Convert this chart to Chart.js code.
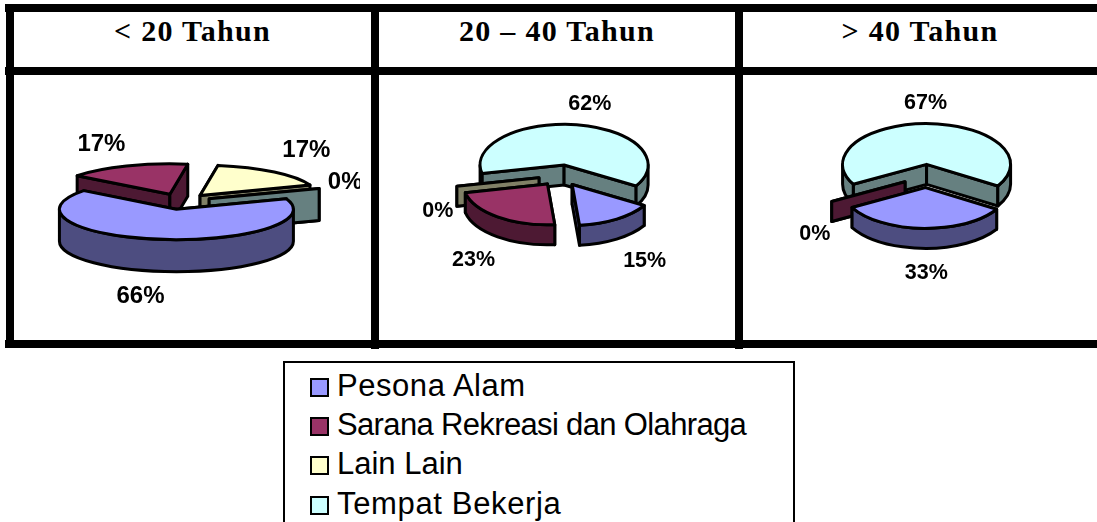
<!DOCTYPE html>
<html>
<head>
<meta charset="utf-8">
<script src="https://cdn.jsdelivr.net/npm/chart.js@4/dist/chart.umd.min.js"></script>
<style>
html,body{margin:0;padding:0;background:#fff;overflow:hidden;width:1097px;height:522px}
.bar{position:absolute;background:#000}
.head{position:absolute;top:12px;height:56px;text-align:center;font:bold 30px/38px "Liberation Serif",serif;letter-spacing:1.3px;color:#000}
canvas{position:absolute}
.wrap{position:absolute;overflow:hidden}
#legend{position:absolute;left:283px;top:361px;width:508px;height:170px;border:2px solid #000;background:#fff;box-sizing:content-box}
.row{position:absolute;left:0;height:39px;font:31px/39px "Liberation Sans",sans-serif;color:#000;white-space:nowrap}
.sw{position:absolute;left:25px;top:11px;width:15px;height:15px;border:2px solid #000}
.tx{position:absolute;left:52px;top:-1px}
</style>
</head>
<body>
<div class="bar" style="left:5px;top:4px;width:1092px;height:8px"></div>
<div class="bar" style="left:5px;top:67px;width:1092px;height:8px"></div>
<div class="bar" style="left:5px;top:340px;width:1092px;height:8px"></div>
<div class="bar" style="left:6px;top:4px;width:8px;height:344px"></div>
<div class="bar" style="left:371px;top:4px;width:8px;height:345px"></div>
<div class="bar" style="left:735px;top:4px;width:8px;height:345px"></div>
<div id="heads"></div>
<div class="wrap" style="left:14px;top:75px;width:346px;height:265px"><canvas id="c0" width="346" height="265" style="left:0;top:0;width:346px;height:265px"></canvas></div>
<div class="wrap" style="left:379px;top:75px;width:356px;height:265px"><canvas id="c1" width="356" height="265" style="left:0;top:0;width:356px;height:265px"></canvas></div>
<div class="wrap" style="left:743px;top:75px;width:354px;height:265px"><canvas id="c2" width="354" height="265" style="left:0;top:0;width:354px;height:265px"></canvas></div>
<div id="legend"></div>
<script>
const categories = ['Pesona Alam', 'Sarana Rekreasi dan Olahraga', 'Lain Lain', 'Tempat Bekerja'];
const ageGroups = ['< 20 Tahun', '20 – 40 Tahun', '> 40 Tahun'];
const valuesUnder20 = [66, 17, 17, 0];
const values20to40 = [15, 23, 0, 62];
const valuesOver40 = [33, 0, null, 67];
const topColors = ['#9999FF', '#993366', '#FFFFCC', '#CCFFFF'];
const sideColors = ['#4D4D80', '#4D1933', '#808066', '#668080'];

const headBoxes = [[14, 357], [379, 356], [743, 354]];
ageGroups.forEach((t, i) => {
  const d = document.createElement('div');
  d.className = 'head';
  d.style.left = headBoxes[i][0] + 'px';
  d.style.width = headBoxes[i][1] + 'px';
  d.textContent = t;
  document.getElementById('heads').appendChild(d);
});

const rowTops = [4, 43, 82, 122];
const rowSpacing = [0.55, -0.65, 0, 0.65];
categories.forEach((c, i) => {
  const r = document.createElement('div');
  r.className = 'row';
  r.style.top = rowTops[i] + 'px';
  const s = document.createElement('span');
  s.className = 'sw';
  s.style.background = topColors[i];
  const t = document.createElement('span');
  t.className = 'tx';
  t.style.letterSpacing = rowSpacing[i] + 'px';
  t.textContent = c;
  r.appendChild(s); r.appendChild(t);
  document.getElementById('legend').appendChild(r);
});

const pie3d = {
  id: 'pie3d',
  beforeDatasetsDraw(chart, args, o) {
    const ctx = chart.ctx;
    const meta = chart.getDatasetMeta(0);
    const raw = chart.data.datasets[0].data;
    const s = o.squash, d = o.depth;
    const slices = meta.data.map((arc, i) => {
      const p = arc.getProps(['x', 'y', 'startAngle', 'endAngle', 'outerRadius']);
      const mid = (p.startAngle + p.endAngle) / 2;
      const off = arc.options.offset;
      return { i, p, mid, cx: p.x + Math.cos(mid) * off, cy: p.y + Math.sin(mid) * off * s };
    }).filter(q => raw[q.i] !== null);
    const order = slices.slice().sort((a, b) => Math.sin(a.mid) - Math.sin(b.mid));
    ctx.save();
    ctx.lineWidth = 3;
    ctx.lineJoin = 'round';
    ctx.strokeStyle = '#000';
    const paint = c => { ctx.fillStyle = c; ctx.fill(); ctx.stroke(); };
    order.forEach(q => {
      const { p, cx, cy, i } = q;
      const r = p.outerRadius, ry = r * s;
      const side = sideColors[i];
      [p.startAngle, p.endAngle].forEach(a => {
        const ox = cx + r * Math.cos(a), oy = cy + ry * Math.sin(a);
        ctx.beginPath();
        ctx.moveTo(cx, cy); ctx.lineTo(ox, oy); ctx.lineTo(ox, oy + d); ctx.lineTo(cx, cy + d);
        ctx.closePath();
        paint(side);
      });
      if (p.endAngle > p.startAngle) {
        for (let k = -2; k <= 2; k++) {
          const t0 = Math.max(p.startAngle, 2 * k * Math.PI);
          const t1 = Math.min(p.endAngle, 2 * k * Math.PI + Math.PI);
          if (t1 > t0) {
            ctx.beginPath();
            ctx.ellipse(cx, cy, r, ry, 0, t0, t1);
            ctx.ellipse(cx, cy + d, r, ry, 0, t1, t0, true);
            ctx.closePath();
            paint(side);
          }
        }
        ctx.beginPath();
        ctx.moveTo(cx, cy);
        ctx.ellipse(cx, cy, r, ry, 0, p.startAngle, p.endAngle);
        ctx.closePath();
        paint(meta.data[i].options.backgroundColor);
      }
    });
    ctx.fillStyle = '#000';
    ctx.font = 'bold ' + o.fontSize + 'px "Liberation Sans", sans-serif';
    ctx.textAlign = 'center';
    ctx.textBaseline = 'middle';
    slices.forEach(q => {
      const r = q.p.outerRadius;
      const n = o.labelNudge[q.i];
      const lx = q.cx + r * Math.cos(q.mid) + n[0];
      const ly = q.cy + r * s * Math.sin(q.mid) + n[1];
      ctx.fillText(raw[q.i] + '%', lx, ly);
    });
    ctx.restore();
    return false;
  }
};

function makePie(id, values, cfg) {
  new Chart(document.getElementById(id), {
    type: 'pie',
    data: {
      labels: categories,
      datasets: [{
        data: values,
        backgroundColor: topColors,
        borderWidth: 0,
        offset: cfg.offset,
        radius: cfg.radius
      }]
    },
    options: {
      responsive: false,
      animation: false,
      rotation: cfg.rotation,
      layout: { padding: cfg.padding },
      plugins: {
        legend: { display: false },
        tooltip: { enabled: false },
        pie3d: { squash: cfg.squash, depth: cfg.depth, fontSize: cfg.fontSize, labelNudge: cfg.labelNudge }
      }
    },
    plugins: [pie3d]
  });
}

makePie('c0', valuesUnder20, {
  rotation: 70, radius: 117, offset: 30, squash: 0.26, depth: 32, fontSize: 24,
  padding: { right: 12, bottom: 12 },
  labelNudge: [[-18, 57], [-25, -22], [32, -22], [26, -6]]
});
makePie('c1', values20to40, {
  rotation: 121, radius: 84, offset: 22, squash: 0.485, depth: 20, fontSize: 21.5,
  padding: { left: 7, bottom: 64 },
  labelNudge: [[28, 42], [-24, 43], [-19, 25], [12, -21]]
});
makePie('c2', valuesOver40, {
  rotation: 122, radius: 84, offset: 24, squash: 0.485, depth: 20, fontSize: 21.5,
  padding: { left: 12, bottom: 63 },
  labelNudge: [[3, 45], [-17, 33], [0, 0], [-3, -21]]
});
</script>
</body>
</html>
